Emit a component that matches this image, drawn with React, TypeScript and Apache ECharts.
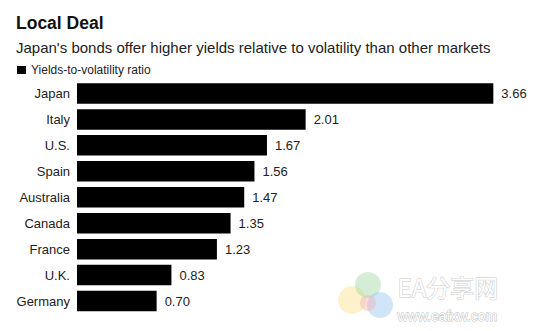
import React, { useEffect, useRef } from "react";
import * as echarts from "echarts";

const categories = ["Japan", "Italy", "U.S.", "Spain", "Australia", "Canada", "France", "U.K.", "Germany"];
const ratios = [3.66, 2.01, 1.67, 1.56, 1.47, 1.35, 1.23, 0.83, 0.7];
const seriesName = "Yields-to-volatility ratio";
const titleText = "Local Deal";
const subtitleText = "Japan's bonds offer higher yields relative to volatility than other markets";

const FONT = "Arial, 'Liberation Sans', Helvetica, sans-serif";

export default function App() {
  const ref = useRef<HTMLDivElement>(null);
  useEffect(() => {
    if (!ref.current) return;
    const chart = echarts.init(ref.current, null, { renderer: "svg" });
    chart.setOption({
      animation: false,
      backgroundColor: "#ffffff",
      title: [
        {
          text: titleText,
          left: 16,
          top: 14,
          padding: 0,
          textStyle: { fontFamily: FONT, fontSize: 17.5, fontWeight: "bold", color: "#111" },
        },
        {
          text: subtitleText,
          left: 16,
          top: 40,
          padding: 0,
          textStyle: { fontFamily: FONT, fontSize: 15, fontWeight: "normal", color: "#222" },
        },
      ],
      legend: {
        left: 17,
        top: 64,
        padding: 0,
        icon: "rect",
        itemWidth: 9,
        itemHeight: 8,
        itemGap: 5,
        textStyle: { fontFamily: FONT, fontSize: 12, color: "#222", padding: [0, 0, 0, 0] },
        data: [seriesName],
      },
      grid: { left: 77, right: 17, top: 80.5, bottom: 17 },
      xAxis: {
        type: "value",
        min: 0,
        max: 4,
        show: false,
      },
      yAxis: {
        type: "category",
        data: categories,
        inverse: true,
        axisLine: { show: false },
        axisTick: { show: false },
        axisLabel: { fontFamily: FONT, fontSize: 13, color: "#222", margin: 7 },
      },
      series: [
        {
          name: seriesName,
          type: "bar",
          data: ratios,
          barCategoryGap: "21%",
          itemStyle: { color: "#000" },
          label: {
            show: true,
            position: "right",
            distance: 8,
            fontFamily: FONT,
            fontSize: 13,
            color: "#222",
            formatter: (p: any) => Number(p.value).toFixed(2),
          },
        },
      ],
      graphic: [
        { type: "circle", shape: { cx: 352, cy: 300, r: 14 }, style: { fill: "rgba(250,225,140,0.45)" }, silent: true },
        { type: "circle", shape: { cx: 368, cy: 285, r: 13 }, style: { fill: "rgba(160,215,160,0.45)" }, silent: true },
        { type: "circle", shape: { cx: 380, cy: 305, r: 13 }, style: { fill: "rgba(150,200,240,0.45)" }, silent: true },
        { type: "circle", shape: { cx: 368, cy: 303, r: 8 }, style: { fill: "rgba(240,170,170,0.4)" }, silent: true },
        {
          type: "text",
          left: 397,
          top: 273,
          silent: true,
          style: { text: "EA分享网", fontFamily: "'Noto Sans CJK SC', sans-serif", fontSize: 24, lineHeight: 26, fill: "#fff", stroke: "#c8c8c8", lineWidth: 1 },
        },
        {
          type: "text",
          left: 397,
          top: 308,
          silent: true,
          style: { text: "www.eafxw.com", fontFamily: FONT, fontSize: 14, lineHeight: 15, fill: "#fff", stroke: "#c0c0c0", lineWidth: 1 },
        },
      ],
    });
    return () => chart.dispose();
  }, []);
  return <div ref={ref} style={{ width: 549, height: 331, position: "absolute", left: 0, top: 0 }} />;
}
